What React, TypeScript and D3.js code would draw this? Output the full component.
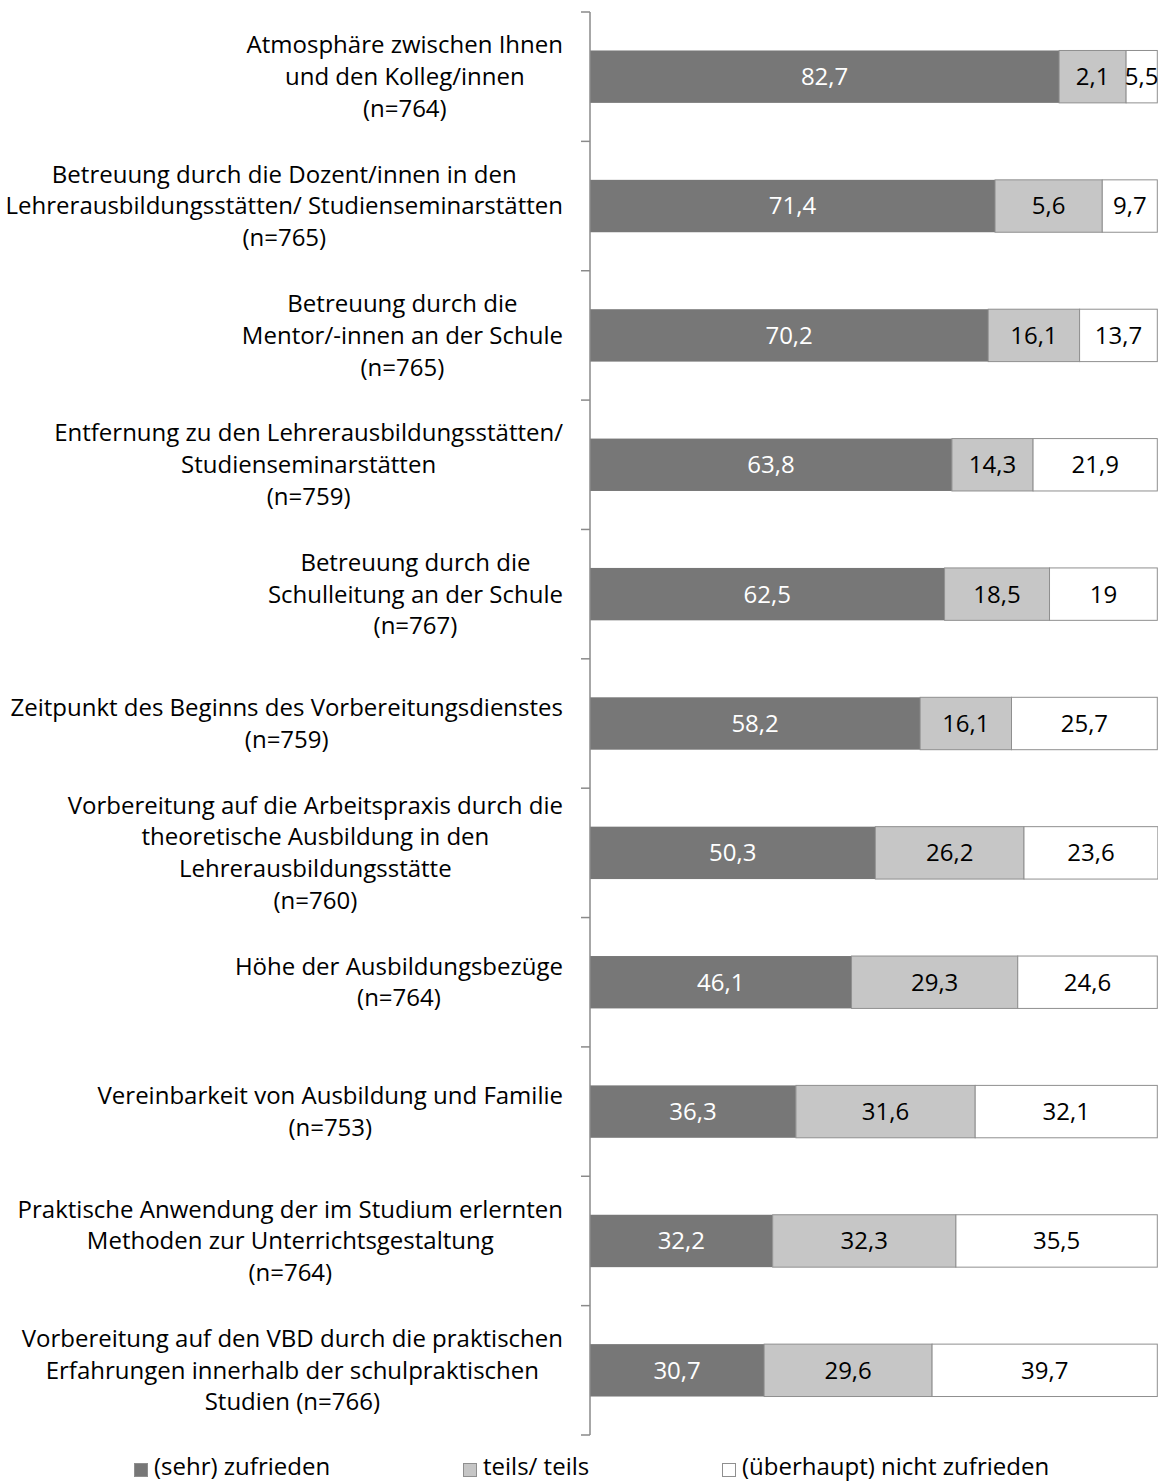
import React, { useEffect, useRef } from "react";
import * as d3 from "d3";

const categories: string[][] = [
  ["Atmosphäre zwischen Ihnen", "und den Kolleg/innen", "(n=764)"],
  ["Betreuung durch die Dozent/innen in den", "Lehrerausbildungsstätten/ Studienseminarstätten", "(n=765)"],
  ["Betreuung durch die", "Mentor/-innen an der Schule", "(n=765)"],
  ["Entfernung zu den Lehrerausbildungsstätten/", "Studienseminarstätten", "(n=759)"],
  ["Betreuung durch die", "Schulleitung an der Schule", "(n=767)"],
  ["Zeitpunkt des Beginns des Vorbereitungsdienstes", "(n=759)"],
  ["Vorbereitung auf die Arbeitspraxis durch die", "theoretische Ausbildung in den", "Lehrerausbildungsstätte", "(n=760)"],
  ["Höhe der Ausbildungsbezüge", "(n=764)"],
  ["Vereinbarkeit von Ausbildung und Familie", "(n=753)"],
  ["Praktische Anwendung der im Studium erlernten", "Methoden zur Unterrichtsgestaltung", "(n=764)"],
  ["Vorbereitung auf den VBD durch die praktischen", "Erfahrungen innerhalb der schulpraktischen", "Studien (n=766)"],
];

// segment widths as drawn (percent)
const zufrieden: number[] = [82.7, 71.4, 70.2, 63.8, 62.5, 58.2, 50.3, 46.1, 36.3, 32.2, 30.7];
const teils: number[] = [11.8, 18.9, 16.1, 14.3, 18.5, 16.1, 26.2, 29.3, 31.6, 32.3, 29.6];
const nicht: number[] = [5.5, 9.7, 13.7, 21.9, 19, 25.7, 23.6, 24.6, 32.1, 35.5, 39.7];

// labels as printed
const zufriedenLabels: string[] = ["82,7", "71,4", "70,2", "63,8", "62,5", "58,2", "50,3", "46,1", "36,3", "32,2", "30,7"];
const teilsLabels: string[] = ["2,1", "5,6", "16,1", "14,3", "18,5", "16,1", "26,2", "29,3", "31,6", "32,3", "29,6"];
const nichtLabels: string[] = ["5,5", "9,7", "13,7", "21,9", "19", "25,7", "23,6", "24,6", "32,1", "35,5", "39,7"];

const seriesNames: string[] = ["(sehr) zufrieden", "teils/ teils", "(überhaupt) nicht zufrieden"];
const seriesColors: string[] = ["#777777", "#c6c6c6", "#ffffff"];
const labelColors: string[] = ["#ffffff", "#000000", "#000000"];

const W = 1158;
const H = 1481;
const FONT = "'Open Sans', sans-serif";
const FS = 24;

export default function App() {
  const ref = useRef<SVGSVGElement | null>(null);

  useEffect(() => {
    const svg = d3.select(ref.current);
    svg.selectAll("*").remove();

    const x = d3.scaleLinear().domain([0, 100]).range([590, 1157.3]);
    const idx = categories.map((_, i) => String(i));
    const y = d3.scaleBand<string>().domain(idx).range([12, 1435]).paddingInner(0.595).paddingOuter(0.2975);
    const step = y.step();

    const series = [zufrieden, teils, nicht];
    const labels = [zufriedenLabels, teilsLabels, nichtLabels];

    const g = svg.append("g");

    categories.forEach((_, i) => {
      let acc = 0;
      series.forEach((s, k) => {
        const v = s[i];
        const x0 = x(acc);
        const x1 = x(acc + v);
        const yy = y(String(i))!;
        g.append("rect")
          .attr("x", x0)
          .attr("y", yy)
          .attr("width", x1 - x0)
          .attr("height", y.bandwidth())
          .attr("fill", seriesColors[k])
          .attr("stroke", k === 0 ? "none" : "#8f8f8f")
          .attr("stroke-width", 1);
        g.append("text")
          .attr("x", (x0 + x1) / 2)
          .attr("y", yy + y.bandwidth() / 2)
          .attr("dy", "0.35em")
          .attr("text-anchor", "middle")
          .attr("font-family", FONT)
          .attr("font-size", FS)
          .attr("fill", labelColors[k])
          .text(labels[k][i]);
        acc += v;
      });
    });

    // axis
    const ax = svg.append("g").attr("stroke", "#8a8a8a").attr("stroke-width", 1.5);
    ax.append("line").attr("x1", 590).attr("x2", 590).attr("y1", 12).attr("y2", 1435);
    for (let i = 0; i <= categories.length; i++) {
      const ty = 12 + i * step;
      ax.append("line").attr("x1", 581).attr("x2", 590).attr("y1", ty).attr("y2", ty);
    }

    // category labels
    const LH = 31.7;
    categories.forEach((lines, i) => {
      const cy = y(String(i))! + y.bandwidth() / 2;
      const t = svg.append("text")
        .attr("font-family", FONT)
        .attr("font-size", FS)
        .attr("fill", "#000000")
        .attr("text-anchor", "middle");
      const tspans = lines.map((l, j) =>
        t.append("tspan").attr("y", cy + (j - (lines.length - 1) / 2) * LH).attr("dy", "0.35em").text(l)
      );
      let maxW = 0;
      tspans.forEach((ts) => {
        const n = ts.node() as SVGTextContentElement;
        maxW = Math.max(maxW, n.getComputedTextLength());
      });
      const cx = 563 - maxW / 2;
      tspans.forEach((ts) => ts.attr("x", cx));
    });

    // legend
    const legX = [134, 463, 722];
    const lg = svg.append("g");
    seriesNames.forEach((name, k) => {
      lg.append("rect")
        .attr("x", legX[k] + 0.5)
        .attr("y", 1463.5)
        .attr("width", 13)
        .attr("height", 13)
        .attr("fill", seriesColors[k])
        .attr("stroke", "#8f8f8f")
        .attr("stroke-width", 1);
      lg.append("text")
        .attr("x", legX[k] + 20)
        .attr("y", 1475)
        .attr("font-family", FONT)
        .attr("font-size", FS)
        .attr("fill", "#000000")
        .text(name);
    });
  }, []);

  return (
    <svg
      ref={ref}
      width={W}
      height={H}
      style={{ position: "absolute", left: 0, top: 0, background: "#ffffff" }}
    />
  );
}
